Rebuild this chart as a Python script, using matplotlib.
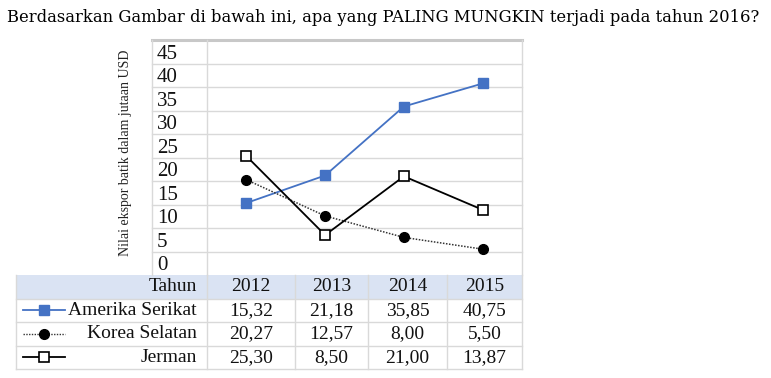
import matplotlib
matplotlib.use("Agg")
import matplotlib.pyplot as plt
from matplotlib.patches import Rectangle
import numpy as np

# Data
years = ["2012", "2013", "2014", "2015"]
series_names = ["Amerika Serikat", "Korea Selatan", "Jerman"]
amerika = [15.32, 21.18, 35.85, 40.75]
korea = [20.27, 12.57, 8.00, 5.50]
jerman = [25.30, 8.50, 21.00, 13.87]
y_ticks = [0, 5, 10, 15, 20, 25, 30, 35, 40, 45]

title = "Berdasarkan Gambar di bawah ini, apa yang PALING MUNGKIN terjadi pada tahun 2016?"
y_label = "Nilai ekspor batik dalam jutaan USD"


def fmt(v):
    return ("%.2f" % v).replace(".", ",")


W, H = 771, 378
fig = plt.figure(figsize=(W / 100, H / 100), dpi=100)
SERIF = "Liberation Serif"
GRID = "#D9D9D9"

# pixel layout
plot_l, plot_r, plot_t, plot_b = 207, 522, 40, 275
lab_l = 152
tab_l, tab_b = 16, 369
col_px = 78.75  # px per x unit

ax = fig.add_axes([plot_l / W, 1 - plot_b / H, (plot_r - plot_l) / W, (plot_b - plot_t) / H])
ax.set_xlim(-0.5, 3.5)
ax.set_ylim(0, 50)
for s in ax.spines.values():
    s.set_visible(False)
ax.set_xticks([])

# horizontal grid, spanning the label column as well
ytr = ax.get_yaxis_transform()
x0 = (lab_l - plot_l) / (plot_r - plot_l)
for v in y_ticks[1:]:
    ax.plot([x0, 1], [v, v], transform=ytr, color=GRID, lw=1.0, clip_on=False, zorder=1)
ax.plot([x0, 1], [50, 50], transform=ytr, color="#C8C8C8", lw=2.2, clip_on=False, zorder=1)

# y tick labels sit in the band above each value
ax.set_yticks(np.array(y_ticks) + 2.5, [str(v) for v in y_ticks])
ax.tick_params(axis="y", length=0, pad=(plot_l - 157) * 0.72)
for t in ax.get_yticklabels():
    t.set_ha("left")
    t.set_fontfamily(SERIF)
    t.set_fontsize(15)
    t.set_color("#111111")

x = np.arange(len(years))
ax.plot(x, amerika, color="#4472C4", lw=1.3, marker="s", ms=6.5, mfc="#4472C4", mec="#4472C4", zorder=3)
ax.plot(x, korea, color="#333333", lw=1.1, ls=(0, (1, 1)), marker="o", ms=7, mfc="black", mec="black", zorder=3)
ax.plot(x, jerman, color="black", lw=1.3, marker="s", ms=6.5, mfc="white", mec="black", mew=1.2, zorder=4)

fig.text(125 / W, 1 - 153 / H, y_label, rotation=90, ha="center", va="center",
         fontfamily=SERIF, fontsize=10, color="#222222")
fig.text(7 / W, 1 - 18 / H, title, ha="left", va="center", fontfamily="DejaVu Serif",
         fontsize=11.8, color="black")

# table below the plot
tax = fig.add_axes([plot_l / W, 1 - tab_b / H, (plot_r - plot_l) / W, (tab_b - plot_b) / H])
tax.set_xlim(-0.5, 3.5)
tax.set_ylim(4, 0)
tax.axis("off")


def px2x(p):
    return -0.5 + (p - plot_l) / col_px


xl = px2x(tab_l)
xr = 3.5
edges = [px2x(p) for p in [207, 295, 368, 447, 522]]
tax.add_patch(Rectangle((xl, 0), xr - xl, 1, facecolor="#DAE3F3", edgecolor="none", clip_on=False))
for r in range(1, 5):
    tax.plot([xl, xr], [r, r], color=GRID, lw=1.0, clip_on=False)
for e in [xl] + edges:
    tax.plot([e, e], [0, 4], color=GRID, lw=1.0, clip_on=False)

# vertical borders of the plot part
fig.add_artist(plt.Line2D([lab_l / W] * 2, [1 - plot_b / H, 1 - plot_t / H], color=GRID, lw=1.0))
fig.add_artist(plt.Line2D([plot_l / W] * 2, [1 - plot_b / H, 1 - plot_t / H], color=GRID, lw=1.0))
fig.add_artist(plt.Line2D([plot_r / W] * 2, [1 - plot_b / H, 1 - plot_t / H], color=GRID, lw=1.0))

tk = dict(fontfamily=SERIF, fontsize=14, color="#111111", va="center")
tax.text(px2x(197), 0.5, "Tahun", ha="right", clip_on=False, **tk)
for i, yr in enumerate(years):
    tax.text((edges[i] + edges[i + 1]) / 2, 0.5, yr, ha="center", **tk)

rows = [amerika, korea, jerman]
styles = [
    dict(color="#4472C4", lw=1.3, marker="s", ms=6.5, mfc="#4472C4", mec="#4472C4"),
    dict(color="#333333", lw=1.0, ls=(0, (1, 1)), marker="o", ms=7, mfc="black", mec="black"),
    dict(color="black", lw=1.3, marker="s", ms=6.5, mfc="white", mec="black", mew=1.2),
]
for r, (name, vals, st) in enumerate(zip(series_names, rows, styles)):
    yc = r + 1.5
    tax.plot([px2x(23), px2x(65)], [yc, yc], clip_on=False, markevery=[], **st)
    tax.plot([px2x(44)], [yc], clip_on=False, **st)
    tax.text(px2x(197), yc, name, ha="right", clip_on=False, **tk)
    for i, v in enumerate(vals):
        tax.text((edges[i] + edges[i + 1]) / 2, yc, fmt(v), ha="center", **tk)

fig.savefig("out.png", dpi=100, facecolor="white")
